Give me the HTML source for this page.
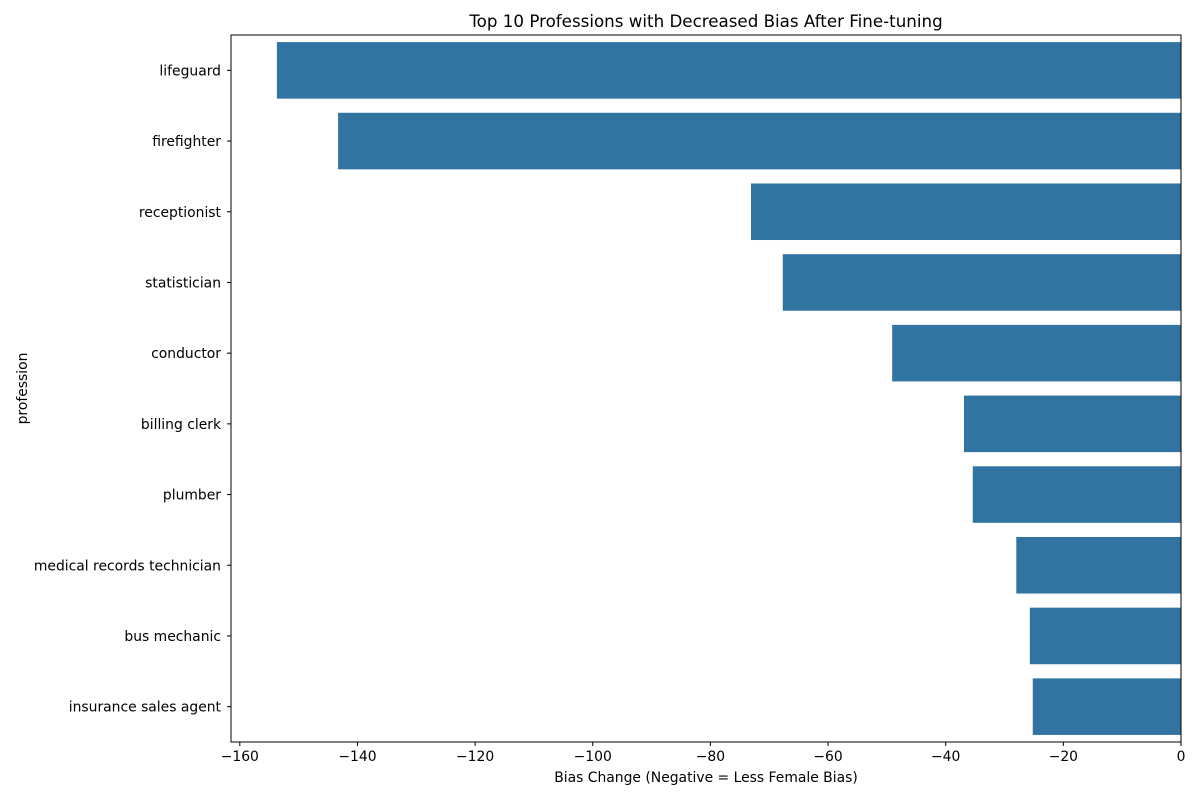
<!DOCTYPE html>
<html><head><meta charset="utf-8"><style>
body{margin:0;background:#fff;font-family:"Liberation Sans","DejaVu Sans",sans-serif}
</style></head><body>
<svg id="chart" width="1200" height="800" xmlns="http://www.w3.org/2000/svg" font-family="DejaVu Sans, Liberation Sans, sans-serif"></svg>
<script>
const categories=["lifeguard","firefighter","receptionist","statistician","conductor","billing clerk","plumber","medical records technician","bus mechanic","insurance sales agent"];
const values=[-153.7,-143.3,-73.1,-67.7,-49.1,-36.9,-35.4,-28.0,-25.7,-25.2];
const ticks=[-160,-140,-120,-100,-80,-60,-40,-20,0];
const tickLabels=["\u2212160","\u2212140","\u2212120","\u2212100","\u221280","\u221260","\u221240","\u221220","0"];
const NS="http://www.w3.org/2000/svg";
const svg=document.getElementById('chart');
const L=231,R=1181,T=35,B=742,xmin=-161.5,xmax=0;
const x=v=>L+(v-xmin)/(xmax-xmin)*(R-L);
const band=(B-T)/categories.length;
const yc=i=>T+band*(i+0.5);
function mk(t,a,txt){const e=document.createElementNS(NS,t);for(const k in a)e.setAttribute(k,a[k]);if(txt!==undefined)e.textContent=txt;svg.appendChild(e);return e;}
values.forEach((v,i)=>{const h=band*0.8;
const r=mk('rect',{x:x(Math.min(v,0)),y:yc(i)-h/2,width:Math.abs(x(v)-x(0)),height:h,fill:'#3274a1'});


const t=mk('text',{x:L-10,y:yc(i)+5,'text-anchor':'end','font-size':'13.9'},categories[i]);


mk('line',{x1:L-4,x2:L,y1:yc(i),y2:yc(i),stroke:'#000'});
});
ticks.forEach((tv,i)=>{mk('line',{x1:x(tv),x2:x(tv),y1:B,y2:B+4,stroke:'#000'});
const t=mk('text',{x:x(tv),y:B+19,'text-anchor':'middle','font-size':'13.9'},tickLabels[i]);

});
const f=mk('rect',{x:L,y:T,width:R-L,height:B-T,fill:'none',stroke:'#000','stroke-width':1});


const ti=mk('text',{x:(L+R)/2,y:27,'text-anchor':'middle','font-size':'16.7'},'Top 10 Professions with Decreased Bias After Fine-tuning');


const xt=mk('text',{x:(L+R)/2,y:782,'text-anchor':'middle','font-size':'13.9'},'Bias Change (Negative = Less Female Bias)');


const yt=mk('text',{x:0,y:0,'text-anchor':'middle','font-size':'13.9',transform:'translate(27,'+((T+B)/2)+') rotate(-90)'},'profession');


</script>
</body></html>
